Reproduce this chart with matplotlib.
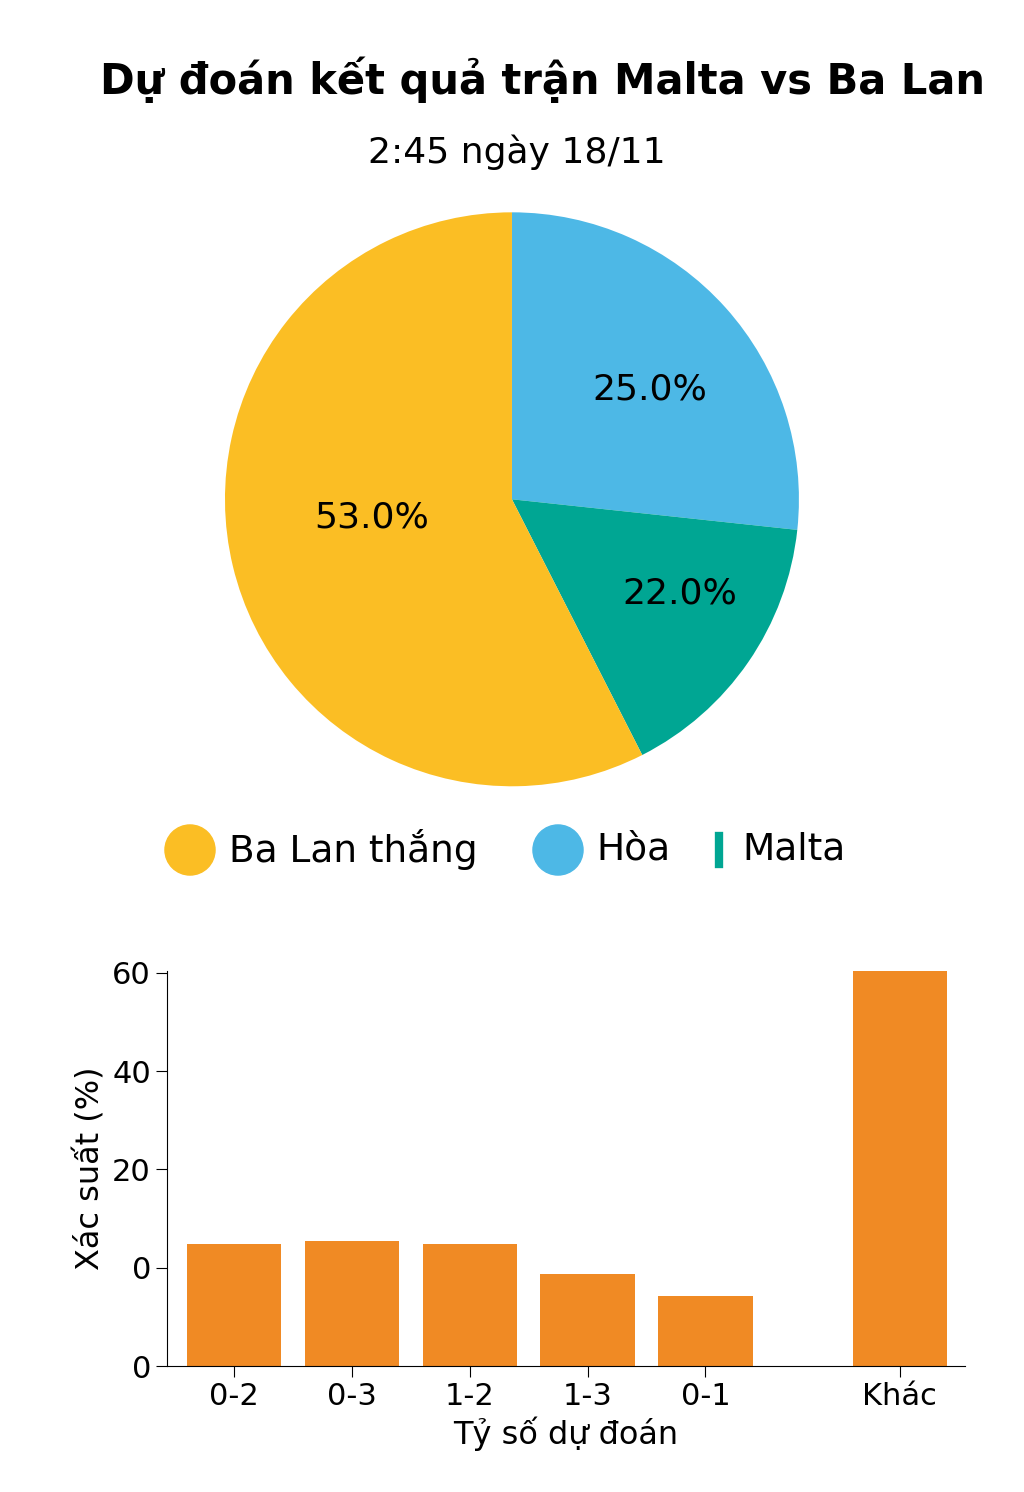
import matplotlib
matplotlib.use("Agg")
import matplotlib.pyplot as plt

# Pie data
pie_labels = ["Ba Lan thắng", "Hòa", "Malta"]
pie_pct_text = ["53.0%", "25.0%", "22.0%"]
pie_drawn_share = [57.5, 26.7, 15.8]   # wedge sizes as drawn in the picture
pie_colors = ["#FBBE24", "#4DB8E6", "#00A693"]

# Bar data
score_labels = ["0-2", "0-3", "1-2", "1-3", "0-1", "Khác"]
score_pos = [0, 1, 2, 3, 4, 5.65]
score_vals = [18.6, 19.1, 18.6, 14.1, 10.7, 60.3]
ytick_vals = [0, 15, 30, 45, 60]
ytick_text = ["0", "0", "20", "40", "60"]

fig = plt.figure(figsize=(10.24, 14.92), dpi=100)
fig.text(0.53, 1 - 80/1492, "Dự đoán kết quả trận Malta vs Ba Lan", ha="center", va="center",
         fontsize=30, fontweight="bold")
fig.text(0.505, 1 - 152/1492, "2:45 ngày 18/11", ha="center", va="center", fontsize=26)

axp = fig.add_axes([0.2197, 0.473, 0.5605, 0.3847])
order = [1, 2, 0]
axp.pie([pie_drawn_share[i] for i in order], colors=[pie_colors[i] for i in order],
        startangle=90, counterclock=False)
axp.set_xlim(-1, 1); axp.set_ylim(-1, 1)
axp.set_aspect("equal")

for txt, (px, py) in zip(pie_pct_text, [(372, 517), (650, 390), (680, 594)]):
    fig.text(px/1024, 1 - py/1492, txt, ha="center", va="center", fontsize=26)

ov = fig.add_axes([0, 0, 1, 1], zorder=-1)
ov.set_xlim(0, 1024); ov.set_ylim(1492, 0); ov.axis("off")
ov.scatter([190, 558], [850, 850], s=1300, c=[pie_colors[0], pie_colors[1]])
ov.plot([719, 719], [836, 864], color=pie_colors[2], lw=6)
ov.text(229, 850, pie_labels[0], va="center", fontsize=27)
ov.text(596, 850, pie_labels[1], va="center", fontsize=27)
ov.text(742, 850, pie_labels[2], va="center", fontsize=27)

axb = fig.add_axes([0.163, 1 - 1366/1492, 0.779, 395/1492])
axb.bar(score_pos, score_vals, width=0.8, color="#F08A24")
axb.set_xlim(-0.57, 6.2)
axb.set_ylim(0, 60.3)
axb.set_yticks(ytick_vals)
axb.set_yticklabels(ytick_text)
axb.set_xticks(score_pos)
axb.set_xticklabels(score_labels)
axb.tick_params(labelsize=22, length=8)
axb.spines["top"].set_visible(False)
axb.spines["right"].set_visible(False)
axb.set_xlabel("Tỷ số dự đoán", fontsize=23)
axb.set_ylabel("Xác suất (%)", fontsize=23)

fig.savefig("out.png", dpi=100)
